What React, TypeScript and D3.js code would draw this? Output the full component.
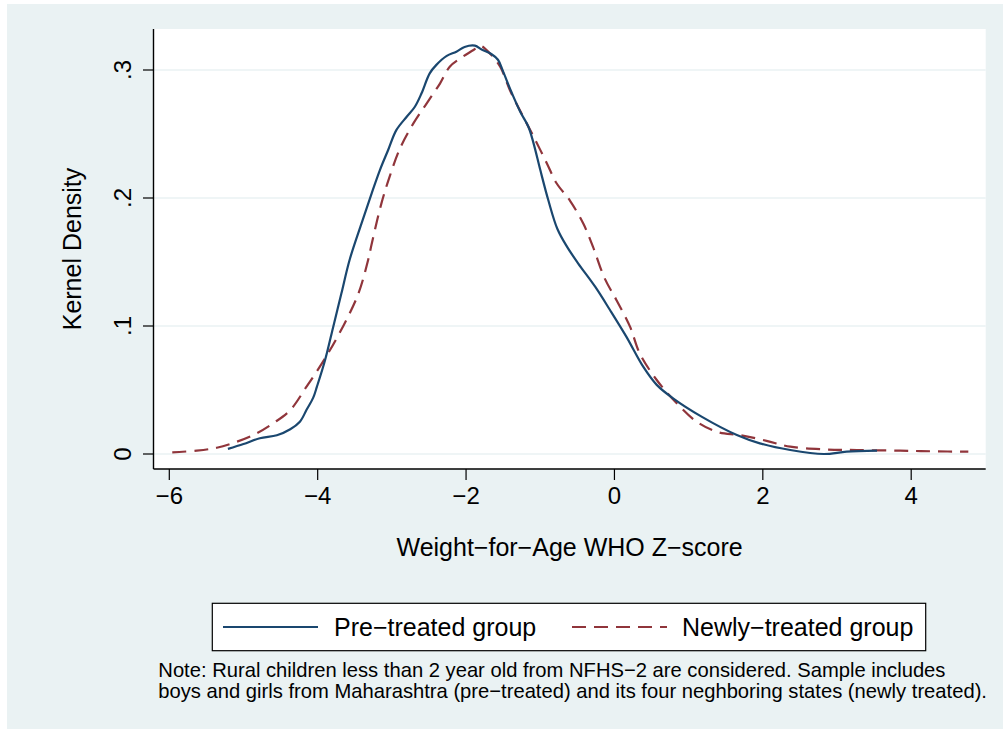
import React from "react";
import * as d3 from "d3";

const xTicks = [-6, -4, -2, 0, 2, 4];
const yTicks = [0, 0.1, 0.2, 0.3];
const yTickLabels = ["0", ".1", ".2", ".3"];
const xTickLabels = ["\u22126", "\u22124", "\u22122", "0", "2", "4"];

const preTreated: [number, number][] = [
  [-5.21, 0.004], [-5.0, 0.0078], [-4.78, 0.0123], [-4.55, 0.0146], [-4.37, 0.0193],
  [-4.24, 0.0252], [-4.15, 0.0345], [-4.06, 0.044], [-4.01, 0.0526], [-3.9, 0.0734],
  [-3.79, 0.0995], [-3.68, 0.1255], [-3.57, 0.1516], [-3.41, 0.18],
  [-3.27, 0.204], [-3.16, 0.222], [-3.05, 0.2375], [-2.94, 0.253], [-2.8, 0.2635],
  [-2.69, 0.2713], [-2.6, 0.2818], [-2.49, 0.2974], [-2.4, 0.304], [-2.26, 0.311],
  [-2.13, 0.3143], [-2.02, 0.318], [-1.88, 0.319], [-1.79, 0.316], [-1.66, 0.3125],
  [-1.57, 0.308], [-1.5, 0.2987], [-1.39, 0.283], [-1.27, 0.2674], [-1.16, 0.2557],
  [-1.09, 0.2427], [-1.0, 0.222], [-0.89, 0.198], [-0.77, 0.176], [-0.64, 0.162],
  [-0.49, 0.149], [-0.26, 0.1307], [-0.06, 0.1125], [0.16, 0.0917], [0.39, 0.068],
  [0.57, 0.054], [0.79, 0.0435], [1.18, 0.029], [1.65, 0.0148], [1.96, 0.0083],
  [2.37, 0.0031], [2.82, 0.0], [3.13, 0.0018], [3.54, 0.0026],
];

const newlyTreated: [number, number][] = [
  [-5.96, 0.0013], [-5.63, 0.0026], [-5.36, 0.0049], [-5.09, 0.0096], [-4.82, 0.0162],
  [-4.6, 0.024], [-4.375, 0.034], [-4.15, 0.0526], [-3.9, 0.0748], [-3.66, 0.0995],
  [-3.45, 0.1255], [-3.32, 0.1516], [-3.27, 0.1646], [-3.14, 0.196], [-3.03, 0.2167],
  [-2.89, 0.2388], [-2.71, 0.2583], [-2.53, 0.274], [-2.35, 0.2896], [-2.22, 0.3026],
  [-2.08, 0.309], [-1.9, 0.3156], [-1.81, 0.319], [-1.68, 0.313], [-1.54, 0.3026],
  [-1.41, 0.2844], [-1.23, 0.2635], [-1.09, 0.248], [-0.91, 0.227], [-0.78, 0.2115],
  [-0.6, 0.198], [-0.42, 0.18], [-0.29, 0.162], [-0.13, 0.137], [0.03, 0.12],
  [0.21, 0.0995], [0.34, 0.0787], [0.57, 0.0578], [0.84, 0.0396], [1.11, 0.0252],
  [1.4, 0.017], [1.69, 0.0148], [2.05, 0.0103], [2.37, 0.0057], [2.82, 0.0036],
  [3.27, 0.0031], [3.85, 0.0026], [4.3, 0.0021], [4.77, 0.0018],
];

const seriesNames = ["Pre\u2212treated group", "Newly\u2212treated group"];
const xTitle = "Weight\u2212for\u2212Age WHO Z\u2212score";
const yTitle = "Kernel Density";
const noteLines = [
  "Note: Rural children less than 2 year old from NFHS\u22122 are considered. Sample includes",
  "boys and girls from Maharashtra (pre\u2212treated) and its four neghboring states (newly treated).",
];

const W = 1003;
const H = 729;
const plot = { left: 153.5, right: 985.7, top: 29, bottom: 469 };
const BLUE = "#1a476f";
const RED = "#90353b";
const BG = "#eaf2f3";
const FONT = "'Liberation Sans', Arial, Helvetica, sans-serif";

export default function App() {
  const x = d3.scaleLinear().domain([-6, 4]).range([169.3, 911.2]);
  const y = d3.scaleLinear().domain([0, 0.3]).range([454, 70]);
  const line = d3
    .line<[number, number]>()
    .x((d) => x(d[0]))
    .y((d) => y(d[1]))
    .curve(d3.curveCatmullRom.alpha(0.5));

  return (
    <svg
      width={W}
      height={H}
      style={{ position: "absolute", left: 0, top: 0, display: "block" }}
      fontFamily={FONT}
    >
      <rect x={0} y={0} width={W} height={H} fill="#ffffff" />
      <rect x={7} y={4} width={W - 7} height={H - 4} fill={BG} />
      <rect
        x={plot.left}
        y={plot.top}
        width={plot.right - plot.left}
        height={plot.bottom - plot.top}
        fill="#ffffff"
      />
      {yTicks.map((t) => (
        <line
          key={"g" + t}
          x1={plot.left}
          x2={plot.right}
          y1={y(t)}
          y2={y(t)}
          stroke={BG}
          strokeWidth={1.6}
        />
      ))}
      <path d={line(newlyTreated) || ""} fill="none" stroke={RED} strokeWidth={2.2} strokeDasharray="14 8" />
      <path d={line(preTreated) || ""} fill="none" stroke={BLUE} strokeWidth={2.2} />

      {/* axes */}
      <line x1={plot.left} x2={plot.left} y1={plot.top} y2={plot.bottom} stroke="#000" strokeWidth={1.4} />
      <line x1={plot.left} x2={plot.right} y1={plot.bottom} y2={plot.bottom} stroke="#000" strokeWidth={1.4} />
      {yTicks.map((t, i) => (
        <g key={"yt" + t}>
          <line x1={143} x2={plot.left} y1={y(t)} y2={y(t)} stroke="#000" strokeWidth={1.2} />
          <text
            transform={`translate(131,${y(t)}) rotate(-90)`}
            textAnchor="middle"
            fontSize={24}
            fill="#000"
          >
            {yTickLabels[i]}
          </text>
        </g>
      ))}
      {xTicks.map((t, i) => (
        <g key={"xt" + t}>
          <line x1={x(t)} x2={x(t)} y1={plot.bottom} y2={480} stroke="#000" strokeWidth={1.2} />
          <text x={x(t)} y={504} textAnchor="middle" fontSize={24} fill="#000">
            {xTickLabels[i]}
          </text>
        </g>
      ))}
      <text x={(plot.left + plot.right) / 2} y={556} textAnchor="middle" fontSize={25} fill="#000">
        {xTitle}
      </text>
      <text
        transform={`translate(81,${(plot.top + plot.bottom) / 2}) rotate(-90)`}
        textAnchor="middle"
        fontSize={25}
        fill="#000"
      >
        {yTitle}
      </text>

      {/* legend */}
      <rect x={212.3} y={603.3} width={713.4} height={47.4} fill="#ffffff" stroke="#000" strokeWidth={1.2} />
      <line x1={223} x2={318} y1={627} y2={627} stroke={BLUE} strokeWidth={2.2} />
      <text x={334} y={636} fontSize={25} fill="#000">
        {seriesNames[0]}
      </text>
      <line x1={572} x2={667} y1={627} y2={627} stroke={RED} strokeWidth={2.2} strokeDasharray="14 8" />
      <text x={682} y={636} fontSize={25} fill="#000">
        {seriesNames[1]}
      </text>

      {/* note */}
      <text x={158.3} y={677} fontSize={20.2} fill="#000">
        {noteLines[0]}
      </text>
      <text x={158.3} y={698} fontSize={20.2} fill="#000">
        {noteLines[1]}
      </text>
    </svg>
  );
}
